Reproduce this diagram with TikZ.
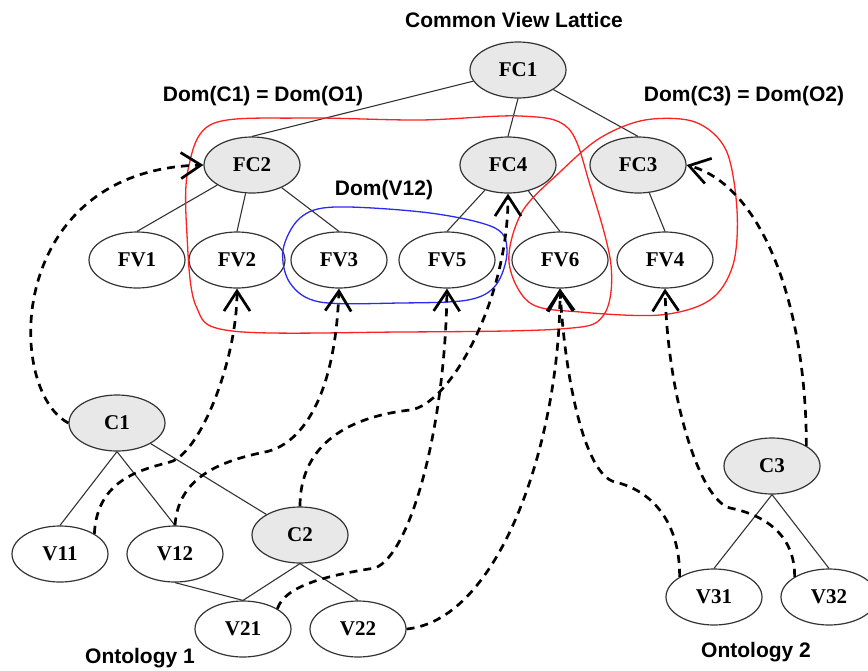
\documentclass[tikz,border=0pt]{standalone}
\usepackage{fontspec}
\setmainfont{Liberation Serif}
\setsansfont{Liberation Sans}
\usetikzlibrary{shapes.geometric,arrows.meta}
\definecolor{conceptfill}{HTML}{E8E8E8}
\definecolor{edgegray}{HTML}{333333}
\definecolor{domred}{HTML}{FF2020}
\definecolor{domblue}{HTML}{2A2AF0}
\tikzset{
  view/.style={ellipse, draw=edgegray, line width=1.2pt, minimum width=96pt,
               minimum height=56pt, inner sep=0pt,
               font=\fontsize{21}{24}\selectfont\bfseries},
  concept/.style={view, fill=conceptfill},
  link/.style={draw=edgegray, line width=1.1pt},
  mapline/.style={line width=2.7pt, dash pattern=on 8pt off 6pt,
                  -{Straight Barb[length=20pt,width=26pt]}},
  domline/.style={line width=1.3pt},
  caption/.style={font=\sffamily\bfseries\fontsize{21}{24}\selectfont},
}

\begin{document}
\begin{tikzpicture}[x=1pt, y=-1pt]
    \useasboundingbox (0,0) rectangle (868,670);

    % common view lattice
    \node[concept] (FC1) at (518,70) {FC1};
    \node[concept] (FC2) at (252,165) {FC2};
    \node[concept] (FC4) at (508,165) {FC4};
    \node[concept] (FC3) at (638,165) {FC3};
    \node[view] (FV1) at (137,260) {FV1};
    \node[view] (FV2) at (237,260) {FV2};
    \node[view] (FV3) at (339,260) {FV3};
    \node[view] (FV5) at (447,260) {FV5};
    \node[view] (FV6) at (560,260) {FV6};
    \node[view] (FV4) at (665,260) {FV4};

    % ontology 1
    \node[concept] (C1) at (117,423) {C1};
    \node[concept] (C2) at (300,535) {C2};
    \node[view] (V11) at (60,554) {V11};
    \node[view] (V12) at (175,554) {V12};
    \node[view] (V21) at (243,629) {V21};
    \node[view] (V22) at (358,629) {V22};

    % ontology 2
    \node[concept] (C3) at (772,466) {C3};
    \node[view] (V31) at (714,597) {V31};
    \node[view] (V32) at (829,597) {V32};

    % captions
    \node[caption] (title) at (514,20) {Common View Lattice};
    \node[caption] (domc1) at (263,96) {Dom(C1) = Dom(O1)};
    \node[caption] (domc3) at (744,96) {Dom(C3) = Dom(O2)};
    \node[caption] (domv12) at (384,190) {Dom(V12)};
    \node[caption] (onto1) at (140,658) {Ontology 1};
    \node[caption] (onto2) at (756,652) {Ontology 2};

    % lattice edges
    \draw[link] (FC1) -- (FC2.north);
    \draw[link] (FC1.south) -- (FC4.north);
    \draw[link] (FC1) -- (FC3.north);
    \draw[link] (FC2) -- (FV1.north);
    \draw[link] (FC2) -- (FV2.north);
    \draw[link] (FC2) -- (FV3.north);
    \draw[link] (FC4) -- (FV5.north);
    \draw[link] (FC4) -- (FV6.north);
    \draw[link] (FC3) -- (FV4.north);
    \draw[link] (C1.south) -- (V11.north);
    \draw[link] (C1.south) -- (V12.north);
    \draw[link] (C1) -- (C2);
    \draw[link] (C2.south) -- (V21.north);
    \draw[link] (C2.south) -- (V22.north);
    \draw[link] (V12.south) -- (V21.north);
    \draw[link] (C3.south) -- (V31.north);
    \draw[link] (C3.south) -- (V32.north);

    % domains
    \draw[domline, domred] plot[smooth cycle, tension=0.55] coordinates {
      (188,170) (212,124) (300,118) (420,120) (520,116) (568,128)
      (590,185) (611,265) (603,316) (560,329) (400,332) (232,331)
      (196,306) (187,235)};
    \draw[domline, domred] plot[smooth cycle, tension=0.55] coordinates {
      (509,262) (522,212) (560,172) (600,138) (645,120) (695,122)
      (726,150) (737,210) (733,265) (710,300) (660,315) (580,312)
      (530,303)};
    \draw[domline, domblue] plot[smooth cycle, tension=0.55] coordinates {
      (283,250) (300,218) (335,207) (430,213) (495,228) (507,252)
      (496,285) (468,300) (400,303) (320,302) (290,283)};

    % view mappings
    \draw[mapline] (C1.west) .. controls (5,390) and (5,170) .. (FC2.west);
    \draw[mapline] (V11.north east) .. controls (97,480) and (140,470) .. (170,462)
      .. controls (200,454) and (237,360) .. (FV2.south);
    \draw[mapline] (V12.north) .. controls (178,480) and (215,462) .. (265,452)
      .. controls (300,445) and (335,400) .. (FV3.south);
    \draw[mapline] (C2.north) .. controls (300,450) and (340,418) .. (410,410)
      .. controls (450,405) and (508,300) .. (FC4.south);
    \draw[mapline] (V21.north east) .. controls (285,585) and (330,575) .. (375,568)
      .. controls (410,555) and (445,430) .. (FV5.south);
    \draw[mapline] (V22.east) .. controls (500,620) and (560,440) .. (FV6.south);
    \draw[mapline] (V31.north west) .. controls (680,520) and (650,490) .. (615,482)
      .. controls (585,475) and (565,380) .. (FV6.south);
    \draw[mapline] (V32.north west) .. controls (795,535) and (765,515) .. (730,508)
      .. controls (700,500) and (668,400) .. (FV4.south);
    \draw[mapline] (C3.north east) .. controls (806,300) and (760,185) .. (FC3.east);
\end{tikzpicture}
\end{document}
